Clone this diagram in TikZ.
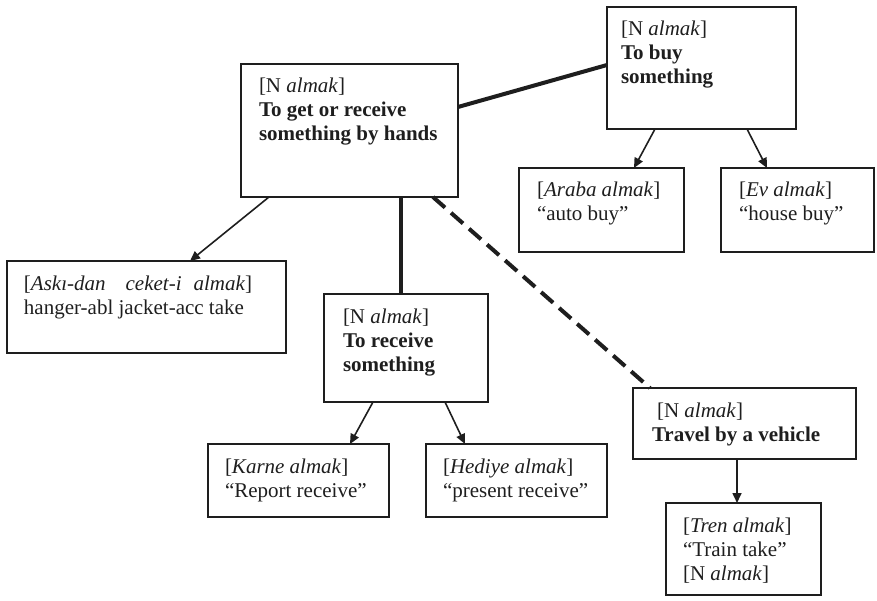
\documentclass[tikz,border=0pt]{standalone}
\usepackage{fontspec}
\setmainfont{Liberation Serif}
\usetikzlibrary{arrows.meta,calc}
\definecolor{ink}{HTML}{1E1E1E}

% Box content: width, height, left inset, text (first baseline 29pt below the top)
\newcommand{\cellbox}[4]{%
  \parbox[c][#2][t]{#1}{\fontsize{21}{24}\selectfont\raggedright
    \leftskip=#3\relax\parindent=0pt\rule{0pt}{29pt}#4}}

\tikzset{
  framebox/.style={draw=ink, text=ink, line width=1.8pt, inner sep=0pt,
    outer sep=0pt, anchor=north west},
  tipline/.style={draw=ink, line width=1.6pt,
    -{Triangle[length=10pt,width=9pt]}},
  heavyline/.style={draw=ink, line width=4pt},
  dashline/.style={draw=ink, line width=4pt, dash pattern=on 16pt off 8pt}
}

\begin{document}
\begin{tikzpicture}[x=1pt,y=-1pt]
\useasboundingbox (0,0) rectangle (877,601);

% senses of "N almak"
\node[framebox] (hands) at (241,64) {\cellbox{217pt}{133pt}{18pt}{%
  [N \textit{almak}]\\ \textbf{To get or receive}\\ \textbf{something by hands}}};
\node[framebox] (buy) at (607,7) {\cellbox{189pt}{122pt}{14pt}{%
  [N \textit{almak}]\\ \textbf{To buy}\\ \textbf{something}}};
\node[framebox] (recv) at (324,294) {\cellbox{164pt}{108pt}{19pt}{%
  [N \textit{almak}]\\ \textbf{To receive}\\ \textbf{something}}};
\node[framebox] (travel) at (633,388) {\cellbox{223pt}{71pt}{19pt}{%
  \hspace*{5pt}[N \textit{almak}]\\ \textbf{Travel by a vehicle}}};

% examples
\node[framebox] (araba) at (519,168) {\cellbox{165pt}{84pt}{18pt}{%
  [\textit{Araba almak}]\\ “auto buy”}};
\node[framebox] (ev) at (721,168) {\cellbox{153pt}{84pt}{18pt}{%
  [\textit{Ev almak}]\\ “house buy”}};
\node[framebox] (aski) at (7,261) {\cellbox{279pt}{92pt}{17pt}{%
  [\textit{Askı-dan}\hspace{20pt}\textit{ceket-i}\hspace{12pt}\textit{almak}]\\
  hanger-abl jacket-acc take}};
\node[framebox] (karne) at (208,444) {\cellbox{181pt}{73pt}{17pt}{%
  [\textit{Karne almak}]\\ “Report receive”}};
\node[framebox] (hediye) at (426,444) {\cellbox{181pt}{73pt}{17pt}{%
  [\textit{Hediye almak}]\\ “present receive”}};
\node[framebox] (tren) at (666,503) {\cellbox{155pt}{92pt}{17pt}{%
  [\textit{Tren almak}]\\ “Train take”\\ {[}N \textit{almak}]}};

% connectors
\draw[heavyline] ($(hands.north east)+(0,43)$) -- ($(buy.north west)+(0,58)$);
\draw[tipline] ($(hands.south west)+(28,0)$) -- ($(aski.north west)+(183,0)$);
\coordinate (down) at ($(hands.south west)+(160,0)$);
\draw[heavyline] (down) -- (down |- recv.north);
\draw[dashline] ($(hands.south west)+(192,0)$) -- ($(travel.north west)+(17,0)$);
\draw[tipline] ($(buy.south west)+(48,0)$) -- ($(araba.north west)+(115,0)$);
\draw[tipline] ($(buy.south west)+(140,0)$) -- ($(ev.north west)+(46,0)$);
\draw[tipline] ($(recv.south west)+(49,0)$) -- ($(karne.north west)+(142,0)$);
\draw[tipline] ($(recv.south west)+(121,0)$) -- ($(hediye.north west)+(39,0)$);
\coordinate (vdrop) at ($(travel.south west)+(104,0)$);
\draw[tipline] (vdrop) -- (vdrop |- tren.north);
\end{tikzpicture}
\end{document}
